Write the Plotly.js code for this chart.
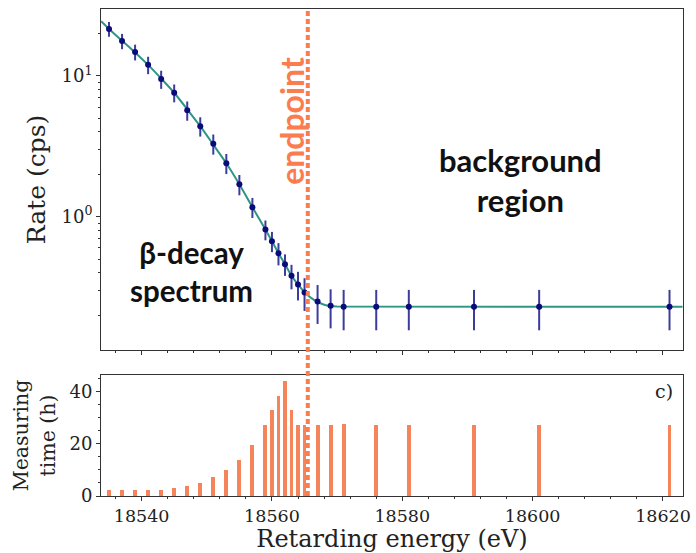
<!DOCTYPE html>
<html>
<head>
<meta charset="utf-8">
<script src="https://cdn.plot.ly/plotly-3.0.1.min.js"></script>
<style>html,body{margin:0;padding:0;background:#fff;}#chart{width:696px;height:553px;}</style>
</head>
<body>
<div id="chart"></div>
<script>
// Retarding energies of the scan points (eV)
const energy = [18535,18537,18539,18541,18543,18545,18547,18549,18551,18553,18555,18557,18559,18560,18561,18562,18563,18564,18565,18567,18569,18571,18576,18581,18591,18601,18621];
// Measured rate (cps)
const rate = [21.6,17.7,14.8,12.0,9.5,7.6,5.7,4.4,3.3,2.4,1.7,1.17,0.81,0.67,0.55,0.46,0.38,0.33,0.29,0.25,0.233,0.229,0.229,0.229,0.229,0.229,0.229];
// 1-sigma uncertainty of the rate (cps)
const rateErr = [2.6,2.2,1.9,1.7,1.4,1.1,0.89,0.69,0.54,0.39,0.28,0.19,0.13,0.11,0.099,0.08,0.075,0.076,0.076,0.077,0.072,0.073,0.073,0.073,0.073,0.073,0.073];
// Fit model curve
const fitEnergy = [18533.8,18535,18537,18539,18541,18543,18545,18547,18549,18551,18553,18555,18557,18559,18560,18561,18562,18563,18564,18565,18566,18567,18568,18569,18570,18623];
const fitRate = [24.5,21.6,17.8,14.7,12.0,9.6,7.6,5.8,4.4,3.25,2.4,1.7,1.17,0.81,0.67,0.55,0.46,0.38,0.33,0.29,0.265,0.248,0.237,0.232,0.23,0.229];
// Measuring time per scan point (h)
const hours = [2.3,2.3,2.3,2.3,2.3,3.2,3.9,5.1,7.1,9.9,13.6,19.4,27.0,32.7,38.3,43.8,32.7,27.0,27.0,27.0,27.0,27.3,27.0,27.0,27.0,27.0,27.0];
const endpointEnergy = 18565.5;
const xTicks = [18540,18560,18580,18600,18620];
const xTickText = ['18540','18560','18580','18600','18620'];

const serif = 'DejaVu Serif, serif';
const coral = '#fb7d4f';

const traces = [
  {x: fitEnergy, y: fitRate, xaxis:'x2', yaxis:'y2', type:'scatter', mode:'lines',
   line:{color:'#2f9585', width:2, shape:'spline', smoothing:0.5}, hoverinfo:'skip', showlegend:false},
  {x: energy, y: rate, xaxis:'x2', yaxis:'y2', type:'scatter', mode:'markers',
   marker:{color:'#0a0a7a', size:6},
   error_y:{type:'data', array: rateErr, visible:true, color:'#3c3c9c', thickness:2, width:0},
   showlegend:false},
  {x: energy, y: hours, xaxis:'x', yaxis:'y', type:'bar', width:0.6,
   marker:{color:'#f5845a', line:{width:0}}, showlegend:false}
];

const axBase = {showline:true, mirror:true, linecolor:'#333', linewidth:1, ticks:'outside', ticklen:4, tickcolor:'#333',
  showgrid:false, zeroline:false, tickfont:{family:serif, size:18, color:'#222'}};

const layout = {
  width:696, height:553,
  margin:{l:101, r:13, t:9, b:57},
  paper_bgcolor:'#fff', plot_bgcolor:'#fff',
  bargap:0,
  xaxis: Object.assign({}, axBase, {anchor:'y', domain:[0,1], range:[18533.77,18623.07],
    tickmode:'array', tickvals:xTicks, ticktext:xTickText, tickfont:{family:serif, size:17.5, color:'#222'},
    minor:{ticks:'outside', ticklen:2, tick0:18540, dtick:4, tickcolor:'#333'},
    title:{text:'Retarding energy (eV)', font:{family:serif, size:24, color:'#222'}, standoff:12}}),
  xaxis2: Object.assign({}, axBase, {anchor:'y2', domain:[0,1], matches:'x', showticklabels:false,
    tickmode:'array', tickvals:xTicks,
    minor:{ticks:'outside', ticklen:2, tick0:18540, dtick:4, tickcolor:'#333'}}),
  yaxis: Object.assign({}, axBase, {anchor:'x', domain:[0,0.2485], range:[0,46.2],
    tickmode:'array', tickvals:[0,20,40], ticktext:['0','20','40'],
    minor:{ticks:'outside', ticklen:2, tick0:0, dtick:5, tickcolor:'#333'},
    title:{text:'Measuring<br>time (h)', font:{family:serif, size:20.5, color:'#222'}, standoff:8}}),
  yaxis2: Object.assign({}, axBase, {anchor:'x2', domain:[0.2998,1], type:'log', range:[-0.947,1.476],
    tickmode:'array', tickvals:[1,10], ticktext:['10<sup>0</sup>','10<sup>1</sup>'],
    minor:{ticks:'outside', ticklen:2, dtick:'D1', tickcolor:'#333'},
    title:{text:'Rate (cps)', font:{family:serif, size:25, color:'#222'}, standoff:8}}),
  shapes:[
    {type:'line', xref:'x', yref:'paper', x0:endpointEnergy, x1:endpointEnergy, y0:0, y1:1.0,
     line:{color:coral, width:4, dash:'5px,3px'}, layer:'above'}
  ],
  annotations:[
    {text:'<b>endpoint</b>', xref:'x', yref:'paper', x:18562.9, y:0.770, textangle:-90,
     showarrow:false, font:{family:'Lato, sans-serif', size:32, color:coral}, xanchor:'center', yanchor:'middle'},
    {text:'<b>β-decay<br>spectrum</b>', xref:'x', yref:'paper', x:18547.6, y:0.462,
     showarrow:false, font:{family:'Lato, sans-serif', size:29.5, color:'#111'}, xanchor:'center', yanchor:'middle'},
    {text:'<b>background<br>region</b>', xref:'x', yref:'paper', x:18598.2, y:0.649,
     showarrow:false, font:{family:'Lato, sans-serif', size:31, color:'#111'}, xanchor:'center', yanchor:'middle'},
    {text:'c)', xref:'paper', yref:'paper', x:0.967, y:0.2156,
     showarrow:false, font:{family:serif, size:19, color:'#222'}, xanchor:'center', yanchor:'middle'}
  ]
};

Plotly.newPlot('chart', traces, layout, {displayModeBar:false, staticPlot:true});
</script>
</body>
</html>
